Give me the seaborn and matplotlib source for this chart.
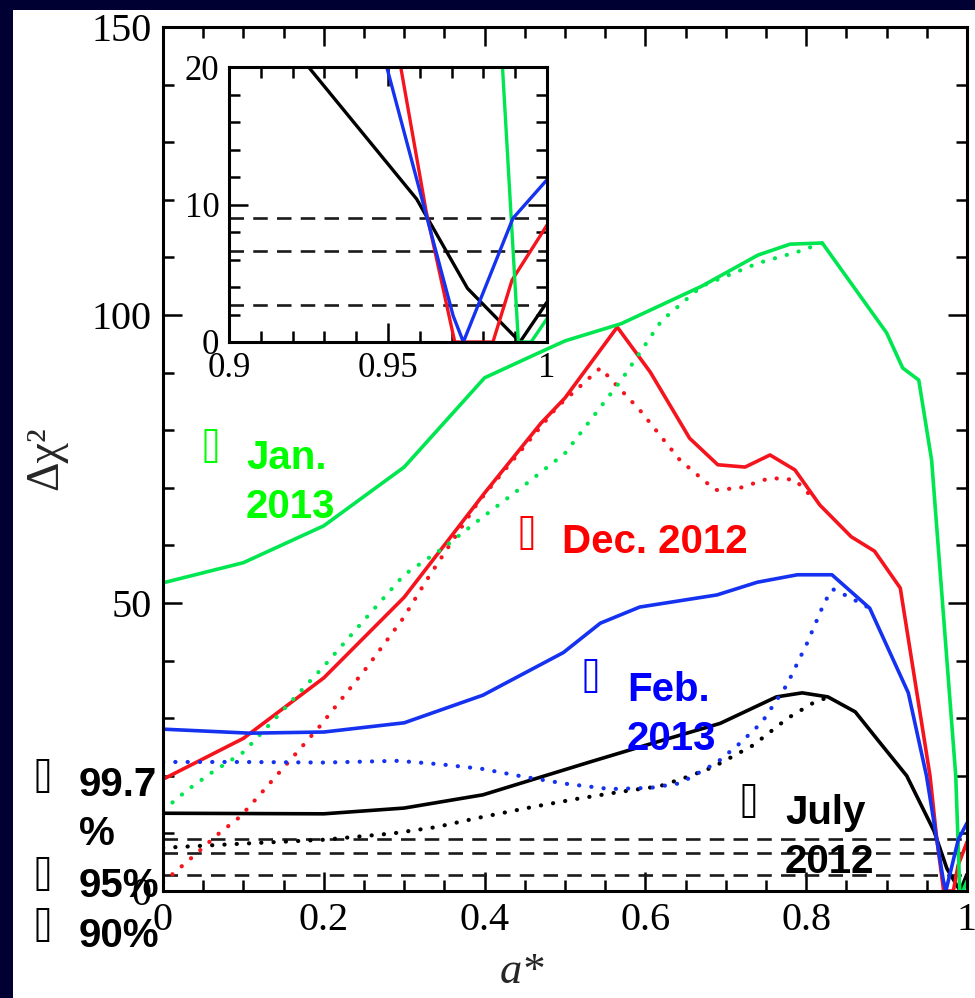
import matplotlib
matplotlib.use("Agg")
import matplotlib.pyplot as plt
from matplotlib.patches import Rectangle
from matplotlib.ticker import MultipleLocator
import seaborn as sns

# ---- data: delta chi^2 versus spin a* for four epochs ----
jul12_x = [0, 0.2, 0.3, 0.398, 0.531, 0.593, 0.693, 0.763, 0.795, 0.827, 0.861, 0.892, 0.925, 0.959, 0.975, 0.9915, 1.0]
jul12_y = [13.5, 13.4, 14.4, 16.7, 22.4, 25.0, 29.1, 33.7, 34.4, 33.7, 31.1, 25.7, 20.0, 10.4, 3.9, 0.0, 2.9]
jul12_dot_x = [0, 0.096, 0.2, 0.286, 0.34, 0.392, 0.46, 0.515, 0.568, 0.618, 0.652, 0.684, 0.734, 0.777, 0.808, 0.83]
jul12_dot_y = [7.5, 8.2, 8.9, 10.0, 11.1, 12.7, 14.6, 16.0, 17.2, 18.2, 19.8, 21.5, 25.3, 30.0, 32.6, 33.8]

dec12_x = [0, 0.1, 0.2, 0.3, 0.4, 0.47, 0.5, 0.565, 0.606, 0.655, 0.69, 0.724, 0.755, 0.786, 0.817, 0.856, 0.885, 0.917, 0.954, 0.962, 0.971, 0.983, 0.989, 1.0]
dec12_y = [19.4, 26.5, 37.0, 51.0, 69.1, 81.2, 85.6, 97.9, 90.1, 78.6, 74.0, 73.6, 75.7, 73.1, 67.0, 61.5, 59.0, 52.6, 20.0, 9.5, 0.0, 0.0, 4.5, 8.5]
dec12_dot_x = [0, 0.04, 0.067, 0.096, 0.121, 0.146, 0.17, 0.195, 0.254, 0.299, 0.328, 0.361, 0.392, 0.415, 0.49, 0.544, 0.593, 0.643, 0.687, 0.718, 0.755, 0.786, 0.81]
dec12_dot_y = [1.5, 6.3, 9.7, 12.9, 16.8, 20.8, 24.6, 28.6, 38.9, 47.4, 54.0, 61.0, 67.5, 71.4, 84.0, 90.8, 83.5, 74.8, 69.6, 70.0, 71.7, 71.4, 68.0]

jan13_x = [0, 0.1, 0.2, 0.3, 0.4, 0.47, 0.5, 0.57, 0.67, 0.74, 0.78, 0.82, 0.9, 0.92, 0.94, 0.956, 0.986, 0.991, 0.995, 1.0]
jan13_y = [53.5, 57.0, 63.4, 73.6, 89.1, 93.6, 95.5, 98.5, 105.0, 110.4, 112.3, 112.5, 96.9, 90.8, 88.7, 74.8, 20.0, 0.0, 0.0, 1.7]
jan13_dot_x = [0, 0.03, 0.06, 0.1, 0.14, 0.2, 0.25, 0.3, 0.35, 0.39, 0.45, 0.5, 0.57, 0.62, 0.67, 0.74, 0.79, 0.82]
jan13_dot_y = [14.0, 17.5, 20.5, 24.1, 30.0, 39.0, 47.0, 54.9, 59.7, 64.1, 70.5, 76.0, 88.7, 99.0, 105.0, 109.0, 111.0, 112.5]

feb13_x = [0, 0.108, 0.2, 0.3, 0.398, 0.498, 0.544, 0.593, 0.689, 0.739, 0.789, 0.832, 0.879, 0.927, 0.9496, 0.9705, 0.9737, 0.9893, 1.0]
feb13_y = [28.1, 27.4, 27.6, 29.2, 34.0, 41.4, 46.5, 49.3, 51.4, 53.6, 54.9, 54.9, 49.1, 34.4, 20.0, 1.9, 0.0, 9.0, 11.8]
feb13_dot_x = [0, 0.1, 0.2, 0.292, 0.345, 0.397, 0.45, 0.502, 0.556, 0.606, 0.643, 0.689, 0.718, 0.745, 0.776, 0.801, 0.823, 0.833, 0.851, 0.867, 0.879]
feb13_dot_y = [22.4, 22.4, 22.3, 22.6, 22.0, 21.2, 19.8, 18.6, 17.7, 17.9, 18.7, 22.3, 25.7, 29.3, 35.8, 43.0, 50.2, 52.4, 51.2, 50.0, 49.1]

# confidence levels (delta chi^2 thresholds)
conf_levels = [9.0, 6.63, 2.71]
conf_names = ["99.7\n%", "95%", "90%"]

epoch_names = ["July\n2012", "Dec. 2012", "Jan.\n2013", "Feb.\n2013"]
line_colors = ["#000000", "#f5141e", "#00e650", "#1432f0"]
text_colors = ["#000000", "#ff0000", "#00ff00", "#0000ff"]

series = [
    (jul12_x, jul12_y, jul12_dot_x, jul12_dot_y),
    (dec12_x, dec12_y, dec12_dot_x, dec12_dot_y),
    (jan13_x, jan13_y, jan13_dot_x, jan13_dot_y),
    (feb13_x, feb13_y, feb13_dot_x, feb13_dot_y),
]

sns.set_style("ticks")
plt.rcParams["font.family"] = ["Liberation Serif", "DejaVu Serif"]

W, H = 975, 998
fig = plt.figure(figsize=(W / 100, H / 100), dpi=100, facecolor="#000033")
fig.add_artist(Rectangle((13 / W, 0), 1, 1 - 10 / H, transform=fig.transFigure,
                         facecolor="white", edgecolor="none", zorder=-5))


def fbox(l, t, r, b):
    return [l / W, 1 - b / H, (r - l) / W, (b - t) / H]


def draw_curves(ax, lw):
    for (sx, sy, dx, dy), c in zip(series, line_colors):
        sns.lineplot(x=dx, y=dy, ax=ax, color=c, lw=3.0,
                     linestyle=(0, (0.05, 2.9)), dash_capstyle="round",
                     estimator=None, sort=False)
        sns.lineplot(x=sx, y=sy, ax=ax, color=c, lw=lw,
                     estimator=None, sort=False)
    for lv in conf_levels:
        ax.axhline(lv, color="#1a1a1a", lw=1.9, dashes=(5.5, 3.5), zorder=1)


def style_axes(ax, size, major, minor):
    for s in ax.spines.values():
        s.set_linewidth(2.2)
        s.set_color("black")
    ax.tick_params(which="both", direction="in", top=True, right=True,
                   width=1.8, colors="black", labelsize=size)
    ax.tick_params(which="major", length=major)
    ax.tick_params(which="minor", length=minor)


# ---- main panel ----
ax = fig.add_axes(fbox(163, 27, 967, 891))
draw_curves(ax, 2.6)
ax.set_xlim(0, 1)
ax.set_ylim(0, 150)
ax.xaxis.set_minor_locator(MultipleLocator(0.05))
ax.yaxis.set_minor_locator(MultipleLocator(10))
ax.set_xticks([0, 0.2, 0.4, 0.6, 0.8, 1.0])
ax.set_xticklabels(["0", "0.2", "0.4", "0.6", "0.8", "1"])
ax.set_yticks([0, 50, 100, 150])
ax.set_yticklabels(["0", "50", "100", "150"])
style_axes(ax, 29, 14, 8)
ax.tick_params(axis="x", pad=8)
ax.tick_params(axis="y", pad=8)
ax.set_xlabel("")
ax.set_ylabel("")
fig.text(522 / W, 1 - 972 / H, "a*", fontsize=32, style="italic",
         ha="center", va="center")
fig.text(46 / W, 1 - 458 / H, "Δχ²", fontsize=33, rotation=90,
         ha="center", va="center")

# ---- zoomed inset near a* = 1 ----
axi = fig.add_axes(fbox(229, 67, 547, 342))
axi.set_facecolor("white")
draw_curves(axi, 2.4)
axi.set_xlim(0.9, 1.0)
axi.set_ylim(0, 20)
axi.set_xticks([0.9, 0.95, 1.0])
axi.set_xticklabels(["0.9", "0.95", "1"])
axi.xaxis.set_minor_locator(MultipleLocator(0.01))
axi.set_yticks([0, 10, 20])
axi.set_yticklabels(["0", "10", "20"])
axi.yaxis.set_minor_locator(MultipleLocator(2))
style_axes(axi, 25, 14, 8)
axi.tick_params(axis="x", pad=7)
axi.tick_params(axis="y", pad=7)
axi.set_xlabel("")
axi.set_ylabel("")

# ---- epoch and confidence labels ----
bold = dict(fontsize=29, fontweight="bold", family=["Liberation Sans", "DejaVu Sans"])
mark = "⌷"


def label(box_x, box_y, tx, ty, text, color):
    # ty is the baseline of the last line of the label
    fig.text(box_x / W, 1 - box_y / H, mark, color=color, fontsize=26,
             family=["DejaVu Sans Mono", "DejaVu Sans"], ha="left",
             va="center", zorder=10)
    fig.text(tx / W, 1 - ty / H, text, color=color, ha="left",
             va="baseline", linespacing=1.36, zorder=10, **bold)


label(199, 449, 246, 518, epoch_names[2], text_colors[2])
label(515, 536, 562, 553, epoch_names[1], text_colors[1])
label(580, 679, 627, 750, epoch_names[3], text_colors[3])
label(737, 804, 785, 873, epoch_names[0], text_colors[0])
label(32, 779, 79, 845, conf_names[0], "black")
label(32, 877, 79, 897, conf_names[1], "black")
label(32, 928, 79, 947, conf_names[2], "black")

fig.savefig("out.png", dpi=100, facecolor=fig.get_facecolor())
